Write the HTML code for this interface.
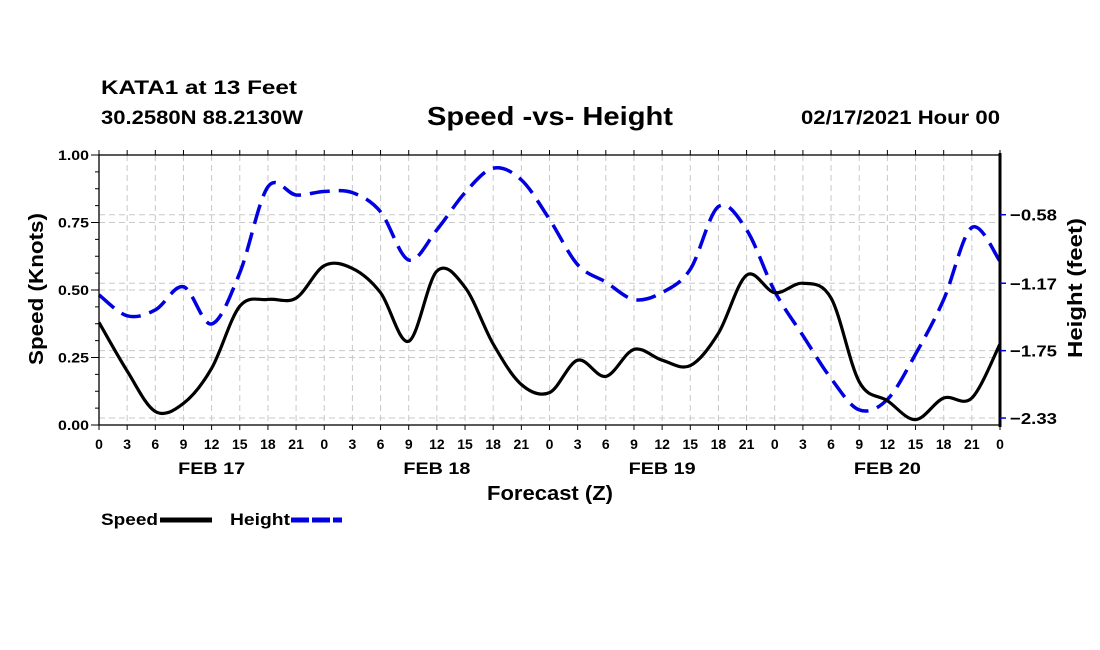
<!DOCTYPE html>
<html><head><meta charset="utf-8"><style>
body{margin:0;background:#fff}
svg{display:block;font-family:"Liberation Sans",Arial,sans-serif}
</style></head><body>
<svg id="chart" width="1100" height="650" viewBox="0 0 1100 650">
<text x="101" y="94" font-size="19" font-weight="bold" textLength="196" lengthAdjust="spacingAndGlyphs">KATA1 at 13 Feet</text>
<text x="101" y="124" font-size="19" font-weight="bold" textLength="202" lengthAdjust="spacingAndGlyphs">30.2580N 88.2130W</text>
<text x="427" y="125" font-size="26" font-weight="bold" textLength="246" lengthAdjust="spacingAndGlyphs">Speed -vs- Height</text>
<text x="801" y="124" font-size="19" font-weight="bold" textLength="199" lengthAdjust="spacingAndGlyphs">02/17/2021 Hour 00</text>
<g id="grid"></g>
<g id="marks"></g>
<g id="axes"></g>
<text transform="translate(43,289) rotate(-90)" font-size="20" font-weight="bold" text-anchor="middle" textLength="152" lengthAdjust="spacingAndGlyphs">Speed (Knots)</text>
<text transform="translate(1082,288) rotate(-90)" font-size="20" font-weight="bold" text-anchor="middle" textLength="140" lengthAdjust="spacingAndGlyphs">Height (feet)</text>
<text x="487" y="500" font-size="20" font-weight="bold" textLength="126" lengthAdjust="spacingAndGlyphs">Forecast (Z)</text>
<g>
<text x="101" y="525" font-size="17" font-weight="bold" textLength="57" lengthAdjust="spacingAndGlyphs">Speed</text>
<line x1="160" y1="520" x2="212" y2="520" stroke="#000" stroke-width="5"/>
<text x="230" y="525" font-size="17" font-weight="bold" textLength="60" lengthAdjust="spacingAndGlyphs">Height</text>
<line x1="291" y1="520" x2="342" y2="520" stroke="#0000e0" stroke-width="5" stroke-dasharray="18 3"/>
</g>
</svg>
<script>
const hours=[0,3,6,9,12,15,18,21,24,27,30,33,36,39,42,45,48,51,54,57,60,63,66,69,72,75,78,81,84,87,90,93,96];
const speed=[0.38,0.20,0.05,0.08,0.21,0.44,0.465,0.47,0.59,0.58,0.49,0.31,0.57,0.51,0.30,0.15,0.12,0.24,0.18,0.28,0.24,0.22,0.34,0.555,0.49,0.525,0.47,0.16,0.09,0.02,0.10,0.10,0.30];
const height=[-1.27,-1.45,-1.40,-1.20,-1.52,-1.08,-0.34,-0.41,-0.38,-0.39,-0.555,-0.97,-0.71,-0.39,-0.18,-0.28,-0.62,-1.01,-1.16,-1.31,-1.25,-1.05,-0.51,-0.71,-1.24,-1.62,-1.99,-2.26,-2.17,-1.78,-1.31,-0.69,-0.98];
const xTickLabels=["0","3","6","9","12","15","18","21"];
const dayLabels=["FEB 17","FEB 18","FEB 19","FEB 20"];
const speedTicks=[0,0.25,0.5,0.75,1.0];
const heightTicks=[-0.58,-1.17,-1.75,-2.33];

const X0=99,X1=1000,Y0=425,Y1=155;
const HMAX=-0.066,HMIN=-2.39;
const NS="http://www.w3.org/2000/svg";
const xs=h=>X0+(h/96)*(X1-X0);
const ys=v=>Y0-v*(Y0-Y1);
const yh=v=>Y1+(HMAX-v)/(HMAX-HMIN)*(Y0-Y1);
function mk(tag,attrs,parent){const e=document.createElementNS(NS,tag);for(const k in attrs)e.setAttribute(k,attrs[k]);parent.appendChild(e);return e;}
const grid=document.getElementById('grid'),axes=document.getElementById('axes'),marks=document.getElementById('marks');

for(let h=3;h<96;h+=3){const l=mk('line',{x1:xs(h),x2:xs(h),y1:Y1,y2:Y0,stroke:'#c8c8c8','stroke-width':1,'stroke-dasharray':'6 4'},grid);

}
speedTicks.forEach(v=>{if(v>0&&v<1){const l=mk('line',{x1:X0,x2:X1,y1:ys(v),y2:ys(v),stroke:'#c8c8c8','stroke-width':1,'stroke-dasharray':'6 4'},grid);

}});
heightTicks.forEach(v=>{const l=mk('line',{x1:X0,x2:X1,y1:yh(v),y2:yh(v),stroke:'#c8c8c8','stroke-width':1,'stroke-dasharray':'6 4'},grid);

});

function pathFor(vals,yf){const p=hours.map((h,i)=>[xs(h),yf(vals[i])]);let d=`M${p[0][0]},${p[0][1]}`;
for(let i=0;i<p.length-1;i++){const a=p[Math.max(0,i-1)],b=p[i],c=p[i+1],e=p[Math.min(p.length-1,i+2)];
d+=` C${b[0]+(c[0]-a[0])/6},${b[1]+(c[1]-a[1])/6} ${c[0]-(e[0]-b[0])/6},${c[1]-(e[1]-b[1])/6} ${c[0]},${c[1]}`;}return d;}
const hp=mk('path',{d:pathFor(height,yh),fill:'none',stroke:'#0000e0','stroke-width':3.5,'stroke-dasharray':'20 9'},marks);


const sp=mk('path',{d:pathFor(speed,ys),fill:'none',stroke:'#000','stroke-width':3.2},marks);



const frame=mk('rect',{x:X0,y:Y1,width:X1-X0,height:Y0-Y1,fill:'none',stroke:'#000','stroke-width':1.3},axes);


const ra=mk('line',{x1:X1,x2:X1,y1:Y1-2,y2:Y0+2,stroke:'#000','stroke-width':3},axes);


for(let h=0;h<=96;h+=3){
 mk('line',{x1:xs(h),x2:xs(h),y1:Y0,y2:Y0+5,stroke:'#000','stroke-width':1},axes);
 mk('line',{x1:xs(h),x2:xs(h),y1:Y1,y2:Y1-5,stroke:'#000','stroke-width':1},axes);
 const t=mk('text',{x:xs(h),y:Y0+24,'font-size':14,'font-weight':'bold','text-anchor':'middle'},axes);
 t.textContent=xTickLabels[(h/3)%8];
 
 }
dayLabels.forEach((s,i)=>{const t=mk('text',{x:xs(12+24*i),y:Y0+49,'font-size':17,'font-weight':'bold','text-anchor':'middle',textLength:67,lengthAdjust:'spacingAndGlyphs'},axes);
t.textContent=s;

});
for(let v=0;v<=1.0001;v+=0.0625){mk('line',{x1:X0-4,x2:X0,y1:ys(v),y2:ys(v),stroke:'#000','stroke-width':1},axes);}
speedTicks.forEach(v=>{mk('line',{x1:X0-8,x2:X0,y1:ys(v),y2:ys(v),stroke:'#000','stroke-width':1},axes);
const t=mk('text',{x:X0-10,y:ys(v)+5,'font-size':14,'font-weight':'bold','text-anchor':'end',textLength:31,lengthAdjust:'spacingAndGlyphs'},axes);
t.textContent=v.toFixed(2);

});
heightTicks.forEach(v=>{mk('line',{x1:X1,x2:X1+6,y1:yh(v),y2:yh(v),stroke:'#0000e0','stroke-width':1.5},axes);
const t=mk('text',{x:X1+10,y:yh(v)+6,'font-size':16,'font-weight':'bold',textLength:47,lengthAdjust:'spacingAndGlyphs'},axes);
t.textContent='\u2212'+Math.abs(v).toFixed(2);

});
</script>
</body></html>
